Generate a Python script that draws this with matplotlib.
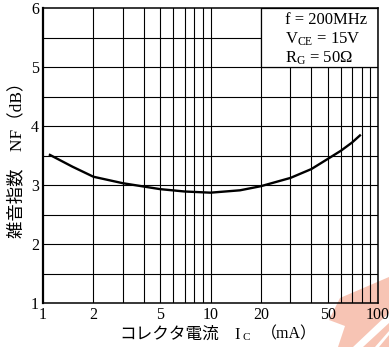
import numpy as np
import matplotlib.pyplot as plt
from matplotlib.patches import Rectangle, Polygon

# Noise figure vs collector current
ic_ma = [1.1, 1.5, 2, 3, 5, 7, 10, 15, 20, 30, 40, 50, 60, 70, 78]
nf_db = [3.51, 3.31, 3.14, 3.03, 2.93, 2.89, 2.87, 2.91, 2.98, 3.12, 3.27, 3.44, 3.58, 3.72, 3.84]

x_ticks = [1, 2, 5, 10, 20, 50, 100]
y_ticks = [1, 2, 3, 4, 5, 6]
y_grid = [1.5, 2, 2.5, 3, 3.5, 4, 4.5, 5, 5.5]
x_grid = [2, 3, 4, 5, 6, 7, 8, 9, 10, 20, 30, 40, 50, 60, 70, 80, 90]

cond_lines = [r"f = 200MHz", r"V$_{\mathrm{CE}}$ = 15V", r"R$_{\mathrm{G}}$ = 50$\Omega$"]

plt.rcParams['mathtext.fontset'] = 'custom'
plt.rcParams['mathtext.rm'] = 'Liberation Serif'
plt.rcParams['mathtext.it'] = 'Liberation Serif'
plt.rcParams['mathtext.default'] = 'regular'

serif = ['Liberation Serif', 'Noto Sans CJK JP']
W, H = 389, 347

fig = plt.figure(figsize=(W / 100, H / 100), dpi=100)
ax = fig.add_axes([43 / W, 1 - 303 / H, 335 / W, 295 / H])
ax.set_facecolor('none')

ax.set_xscale('log')
ax.set_xlim(1, 100)
ax.set_ylim(1, 6)

for xv in x_grid:
    ax.axvline(xv, color='black', lw=0.8, zorder=1)
for yv in y_grid:
    ax.axhline(yv, color='black', lw=0.8, zorder=1)

# conditions box covers the grid in the top-right cell
ax.add_patch(Rectangle((20, 5), 80, 1, facecolor='white', edgecolor='black',
                       lw=0.9, zorder=2))
for i, s in enumerate(cond_lines):
    ax.text(0.722, 0.958 - i * 0.064, s, transform=ax.transAxes, fontsize=12,
            family=serif, ha='left', va='center', zorder=4)

ax.plot(ic_ma, nf_db, color='black', lw=1.7, zorder=3)

ax.set_xticks(x_ticks)
ax.set_xticklabels([str(v) for v in x_ticks])
ax.set_xticks([], minor=True)
ax.set_yticks(y_ticks)
ax.set_yticklabels([str(v) for v in y_ticks])
ax.tick_params(length=0, pad=3, labelsize=11.5)
for lab in ax.get_xticklabels() + ax.get_yticklabels():
    lab.set_family(serif)
for sp in ax.spines.values():
    sp.set_linewidth(1.1)
ax.spines['left'].set_linewidth(1.6)

ax.set_ylabel("雑音指数　NF（dB）", family=serif, fontsize=12.5, labelpad=4)

# x label, pieced together for the subscript
fig.text(119 / W, 0.035, "コレクタ電流", family=serif, fontsize=12, ha='left', va='center')
fig.text(234 / W, 0.035, "I", family=serif, fontsize=12, ha='left', va='center')
fig.text(243 / W, 0.028, "C", family=serif, fontsize=8, ha='left', va='center')
fig.text(261 / W, 0.035, "（mA）", family=serif, fontsize=11.5, ha='left', va='center')

# watermark in the bottom-right corner, behind the chart
def px(pts):
    return [(x / W, 1 - y / H) for x, y in pts]

salmon = '#f7c4b4'
fig.patches.append(Polygon(px([(340, 298), (389, 277), (389, 347), (338, 347), (345, 326), (329, 320)]),
                           closed=True, transform=fig.transFigure, facecolor=salmon,
                           edgecolor='none', zorder=-2))
fig.patches.append(Polygon(px([(353, 347), (389, 313), (389, 323), (363, 347)]),
                           closed=True, transform=fig.transFigure, facecolor='white',
                           edgecolor='none', zorder=-1))
fig.patches.append(Polygon(px([(375, 347), (389, 331), (389, 335), (379, 347)]),
                           closed=True, transform=fig.transFigure, facecolor='white',
                           edgecolor='none', zorder=-1))

fig.savefig('out.png', dpi=100)
